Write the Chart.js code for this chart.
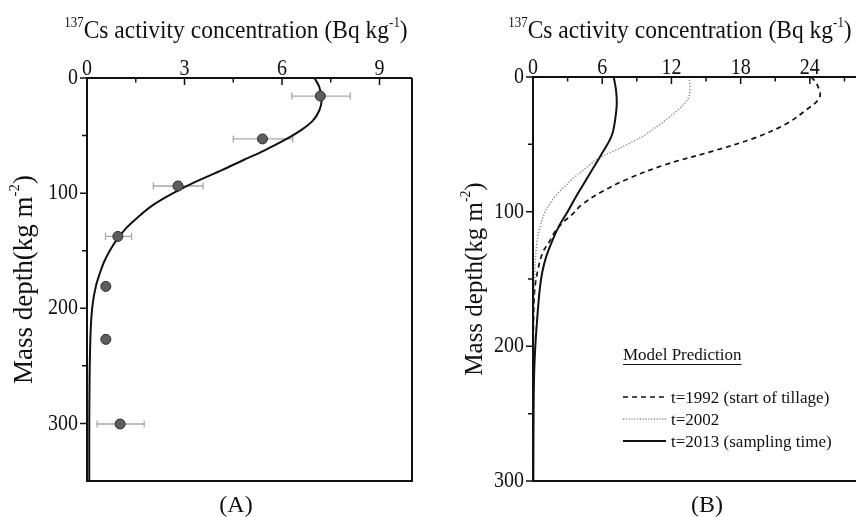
<!DOCTYPE html>
<html>
<head>
<meta charset="utf-8">
<script src="https://cdn.jsdelivr.net/npm/chart.js@4.4.1/dist/chart.umd.min.js"></script>
<style>
    html, body { margin: 0; padding: 0; background: #fff; }
    #wrap { position: relative; width: 856px; height: 517px; overflow: hidden; }
    #chartA { position: absolute; left: 0; top: 0; }
    #chartB { position: absolute; left: 430px; top: 0; }
</style>
</head>
<body>
<div id="wrap">
    <canvas id="chartA" width="430" height="517"></canvas>
    <canvas id="chartB" width="426" height="517"></canvas>
</div>
<script>
// --- Panel A: measured profile ---
const obsDepth = [15.7, 52.9, 93.8, 137.6, 181, 227, 300.5];
const obsConc  = [7.18, 5.4, 2.8, 0.95, 0.58, 0.58, 1.02];
const obsLow   = [6.3, 4.5, 2.04, 0.57, null, null, 0.31];
const obsHigh  = [8.1, 6.33, 3.57, 1.37, null, null, 1.76];

// --- Panel A: fitted curve ---
const fitDepth = [0, 8, 19, 28, 37, 45, 54, 63, 71, 80, 90, 100, 110, 120, 130, 140, 150, 160, 170, 180, 195, 210, 230, 260, 300, 350];
const fitConc  = [7.0, 7.15, 7.22, 7.15, 6.95, 6.6, 6.07, 5.45, 4.83, 4.15, 3.35, 2.65, 2.05, 1.6, 1.22, 0.93, 0.7, 0.52, 0.39, 0.28, 0.18, 0.13, 0.1, 0.08, 0.07, 0.07];

// --- Panel B: model predictions ---
const depth1992 = [0, 5, 15, 25, 35, 45, 55, 65, 75, 85, 95, 102, 108, 115, 122, 130, 143, 158, 180, 220, 300];
const conc1992  = [24.1, 24.6, 24.85, 23.6, 21.9, 19.3, 15.6, 11.5, 8.4, 6.0, 4.2, 3.4, 2.6, 1.9, 1.44, 0.86, 0.43, 0.15, 0.05, 0.01, 0];
const depth2002 = [0, 8, 15, 20, 25, 30, 37, 44, 50, 55, 60, 65, 71, 75, 80, 85, 90, 95, 100, 114, 126, 146, 170, 200, 250, 300];
const conc2002  = [13.5, 13.62, 13.5, 13.1, 12.5, 11.8, 10.7, 9.5, 8.2, 7.0, 5.76, 4.95, 4.1, 3.5, 2.9, 2.3, 1.8, 1.4, 1.05, 0.52, 0.3, 0.15, 0.07, 0.03, 0.01, 0];
const depth2013 = [0, 10, 20, 30, 40, 45, 50, 55, 60, 70, 80, 90, 100, 110, 120, 133, 145, 158, 181, 200, 220, 250, 300];
const conc2013  = [7.0, 7.2, 7.26, 7.15, 6.95, 6.75, 6.45, 6.1, 5.76, 5.05, 4.35, 3.65, 3.0, 2.3, 1.75, 1.16, 0.8, 0.58, 0.35, 0.2, 0.1, 0.05, 0.03];

// --- ticks ---
const xMajorA = [0, 3, 6, 9];
const xMinorA = [1.5, 4.5, 7.5];
const yMajorA = [0, 100, 200, 300];
const yMinorA = [50, 150, 250];
const xMajorB = [0, 6, 12, 18, 24];
const xMinorB = [3, 9, 15, 21, 27];
const yMajorB = [0, 100, 200, 300];
const yMinorB = [50, 150, 250];

const legendLabels = ['t=1992 (start of tillage)', 't=2002', 't=2013 (sampling time)'];

const SERIF = '"Liberation Serif", "Times New Roman", serif';

function pts(xs, ys) {
    return xs.map((v, i) => ({ x: v, y: ys[i] }));
}

// text slightly stretched vertically, like the scanned figure
function stretchText(ctx, s, x, y, sy) {
    ctx.save();
    ctx.translate(x, y);
    ctx.scale(1, sy);
    ctx.fillText(s, 0, 0);
    ctx.restore();
}

// draw a run of text pieces, some as superscripts
function drawPieces(ctx, pieces, x, y, size, sy) {
    let total = 0;
    pieces.forEach(p => {
        ctx.font = (p.sup ? size * 0.55 : size) + 'px ' + SERIF;
        p.w = ctx.measureText(p.t).width;
        total += p.w;
    });
    let cx = x - total / 2;
    ctx.textAlign = 'left';
    ctx.textBaseline = 'alphabetic';
    pieces.forEach(p => {
        ctx.font = (p.sup ? size * 0.55 : size) + 'px ' + SERIF;
        stretchText(ctx, p.t, cx, p.sup ? y - size * 0.47 : y, sy);
        cx += p.w;
    });
}

const titlePieces = () => [
    { t: '137', sup: true },
    { t: 'Cs activity concentration (Bq kg', sup: false },
    { t: '-1', sup: true },
    { t: ')', sup: false }
];
const yTitlePieces = () => [
    { t: 'Mass depth(kg m', sup: false },
    { t: '-2', sup: true },
    { t: ')', sup: false }
];

// frame, ticks, tick labels and titles
const axesPlugin = {
    id: 'axesDeco',
    afterDatasetsDraw(chart, args, o) {
        const { ctx, chartArea: a, scales: { x, y } } = chart;
        ctx.save();
        ctx.strokeStyle = '#111';
        ctx.lineWidth = 2;
        ctx.beginPath();
        ctx.moveTo(a.right, a.top);
        ctx.lineTo(a.left, a.top);
        ctx.lineTo(a.left, a.bottom);
        ctx.lineTo(a.right, a.bottom);
        if (o.closed) ctx.lineTo(a.right, a.top);
        ctx.stroke();

        ctx.lineWidth = 1.5;
        ctx.beginPath();
        o.xMajor.forEach(v => { const px = x.getPixelForValue(v); ctx.moveTo(px, a.top); ctx.lineTo(px, a.top + 7); });
        o.xMinor.forEach(v => { const px = x.getPixelForValue(v); ctx.moveTo(px, a.top); ctx.lineTo(px, a.top + 4.5); });
        o.yMajor.forEach(v => { const py = y.getPixelForValue(v); ctx.moveTo(a.left, py); ctx.lineTo(a.left - 7, py); });
        o.yMinor.forEach(v => { const py = y.getPixelForValue(v); ctx.moveTo(a.left, py); ctx.lineTo(a.left - 5, py); });
        ctx.stroke();

        ctx.fillStyle = '#111';
        ctx.font = '20px ' + SERIF;
        ctx.textAlign = 'center';
        ctx.textBaseline = 'alphabetic';
        o.xMajor.forEach(v => stretchText(ctx, String(v), x.getPixelForValue(v), a.top - 3, 1.17));
        ctx.textAlign = 'right';
        ctx.textBaseline = 'middle';
        o.yMajor.forEach(v => stretchText(ctx, String(v), a.left - 9, y.getPixelForValue(v), 1.17));

        // top title
        drawPieces(ctx, titlePieces(), o.titleX, 38, 23.5, 1.08);
        // y title
        ctx.save();
        ctx.translate(o.yTitleX, (a.top + a.bottom) / 2);
        ctx.rotate(-Math.PI / 2);
        drawPieces(ctx, yTitlePieces(), 0, 0, o.yTitleSize, 1);
        ctx.restore();
        // panel label
        ctx.font = '24px ' + SERIF;
        ctx.textAlign = 'center';
        ctx.textBaseline = 'middle';
        ctx.fillText(o.panel, o.panelX, 506);
        ctx.restore();
    }
};

// horizontal error bars for panel A
const errorBars = {
    id: 'errorBars',
    beforeDatasetsDraw(chart) {
        const { ctx, scales: { x, y } } = chart;
        ctx.save();
        ctx.strokeStyle = '#a8a8a8';
        ctx.lineWidth = 1.3;
        ctx.beginPath();
        obsDepth.forEach((d, i) => {
            if (obsLow[i] == null) return;
            const py = y.getPixelForValue(d);
            const x1 = x.getPixelForValue(obsLow[i]);
            const x2 = x.getPixelForValue(obsHigh[i]);
            ctx.moveTo(x1, py); ctx.lineTo(x2, py);
            ctx.moveTo(x1, py - 3.5); ctx.lineTo(x1, py + 3.5);
            ctx.moveTo(x2, py - 3.5); ctx.lineTo(x2, py + 3.5);
        });
        ctx.stroke();
        ctx.restore();
    }
};

// legend of panel B
const legendB = {
    id: 'legendB',
    afterDraw(chart) {
        const { ctx, chartArea: a } = chart;
        const lx = a.left + 90;
        ctx.save();
        ctx.fillStyle = '#111';
        ctx.font = '17px ' + SERIF;
        ctx.textAlign = 'left';
        ctx.textBaseline = 'alphabetic';
        ctx.fillText('Model Prediction', lx, 360);
        const w = ctx.measureText('Model Prediction').width;
        ctx.strokeStyle = '#111';
        ctx.lineWidth = 1;
        ctx.beginPath(); ctx.moveTo(lx, 364.5); ctx.lineTo(lx + w, 364.5); ctx.stroke();

        const styles = [
            { c: '#111', d: [5, 4], w: 1.6 },
            { c: '#888', d: [1.2, 1.6], w: 1.4 },
            { c: '#111', d: [], w: 2 }
        ];
        legendLabels.forEach((lab, i) => {
            const ly = 397 + i * 22;
            ctx.strokeStyle = styles[i].c;
            ctx.lineWidth = styles[i].w;
            ctx.setLineDash(styles[i].d);
            ctx.beginPath(); ctx.moveTo(lx, ly); ctx.lineTo(lx + 43, ly); ctx.stroke();
            ctx.setLineDash([]);
            ctx.fillText(lab, lx + 48, ly + 6);
        });
        ctx.restore();
    }
};

function baseScales(xMax, yMax, topH, leftW) {
    return {
        x: {
            type: 'linear', position: 'top', min: 0, max: xMax,
            grid: { display: false, drawTicks: false }, border: { display: false },
            ticks: { display: false },
            afterFit: s => { s.height = topH; }
        },
        y: {
            type: 'linear', reverse: true, min: 0, max: yMax,
            grid: { display: false, drawTicks: false }, border: { display: false },
            ticks: { display: false },
            afterFit: s => { s.width = leftW; }
        }
    };
}

new Chart(document.getElementById('chartA'), {
    type: 'scatter',
    data: {
        datasets: [
            {
                label: 'Measured',
                data: pts(obsConc, obsDepth),
                pointRadius: 5,
                pointBackgroundColor: '#5e5e5e',
                pointBorderColor: '#2a2a2a',
                pointBorderWidth: 1
            },
            {
                label: 'Fit',
                data: pts(fitConc, fitDepth),
                showLine: true,
                pointRadius: 0,
                borderColor: '#111',
                borderWidth: 2,
                tension: 0.35
            }
        ]
    },
    options: {
        responsive: false,
        animation: false,
        devicePixelRatio: 1,
        layout: { padding: { left: 0, top: 0, right: 18, bottom: 36 } },
        scales: baseScales(10, 350, 78, 87),
        plugins: {
            legend: { display: false },
            tooltip: { enabled: false },
            axesDeco: {
                closed: true, xMajor: xMajorA, xMinor: xMinorA, yMajor: yMajorA, yMinor: yMinorA,
                titleX: 236, yTitleX: 32, yTitleSize: 27, panel: '(A)', panelX: 236
            }
        }
    },
    plugins: [errorBars, axesPlugin]
});

new Chart(document.getElementById('chartB'), {
    type: 'scatter',
    data: {
        datasets: [
            {
                label: legendLabels[2],
                data: pts(conc2013, depth2013),
                showLine: true, pointRadius: 0,
                borderColor: '#111', borderWidth: 2, tension: 0.35
            },
            {
                label: legendLabels[1],
                data: pts(conc2002, depth2002),
                showLine: true, pointRadius: 0,
                borderColor: '#888', borderWidth: 1.5, borderDash: [1.2, 1.8], tension: 0.35
            },
            {
                label: legendLabels[0],
                data: pts(conc1992, depth1992),
                showLine: true, pointRadius: 0,
                borderColor: '#111', borderWidth: 1.7, borderDash: [5, 4], tension: 0.35
            }
        ]
    },
    options: {
        responsive: false,
        animation: false,
        devicePixelRatio: 1,
        layout: { padding: { left: 0, top: 0, right: 0, bottom: 36 } },
        scales: baseScales(28, 300, 77, 103),
        plugins: {
            legend: { display: false },
            tooltip: { enabled: false },
            axesDeco: {
                closed: false, xMajor: xMajorB, xMinor: xMinorB, yMajor: yMajorB, yMinor: yMinorB,
                titleX: 250, yTitleX: 52, yTitleSize: 25, panel: '(B)', panelX: 277
            }
        }
    },
    plugins: [axesPlugin, legendB]
});
</script>
</body>
</html>
